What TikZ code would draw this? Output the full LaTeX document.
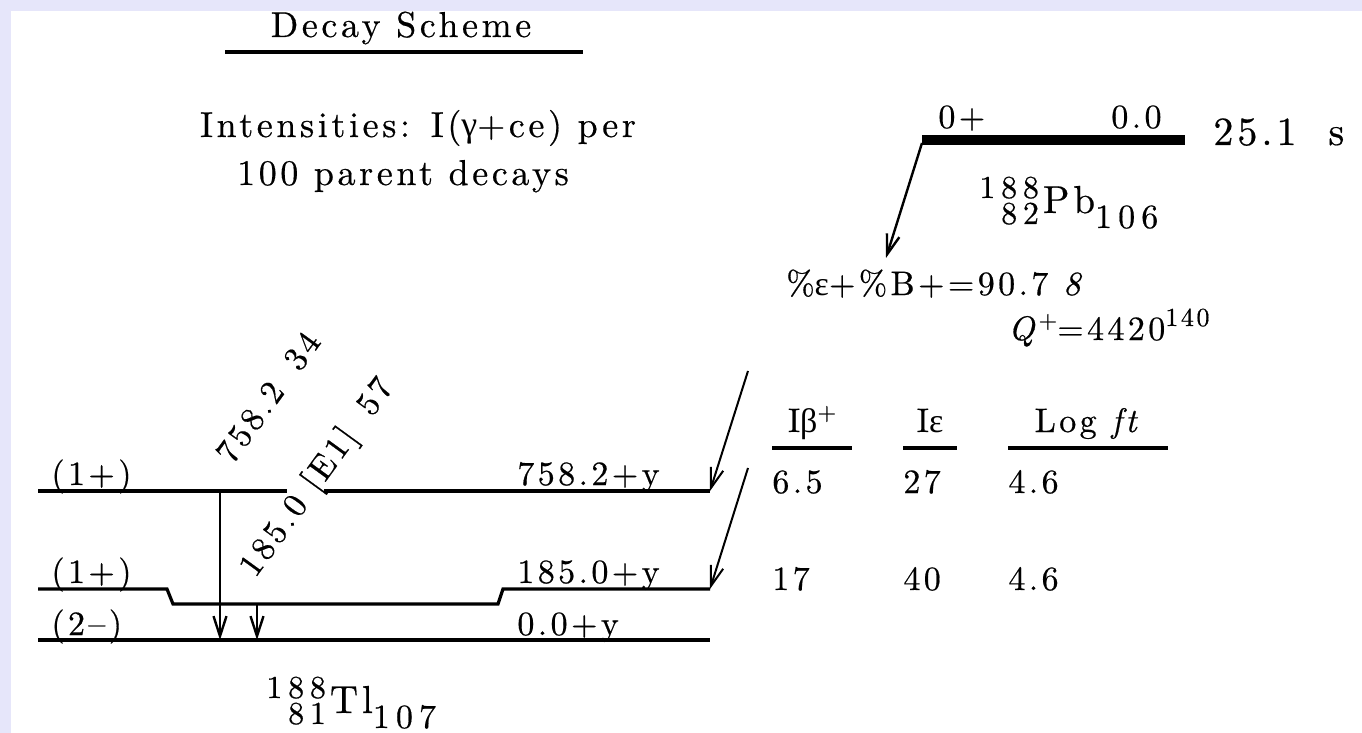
\documentclass[tikz,border=0pt]{standalone}
\usepackage{fontspec}
\setmainfont{lmroman10-regular.otf}[ItalicFont=lmroman10-italic.otf,BoldFont=lmroman10-bold.otf,LetterSpace=10,FakeBold=0.5]
\newfontfamily\grk{Liberation Serif}[LetterSpace=10]
\newfontfamily\nucfont{lmroman10-regular.otf}[LetterSpace=18,FakeBold=0.5]
\usetikzlibrary{arrows.meta,positioning}
\definecolor{bandlav}{RGB}{230,230,250}

\newcommand{\txt}{\fontsize{17}{20}\selectfont}
\newcommand{\bigtxt}{\fontsize{18}{20}\selectfont}
\newcommand{\nucsmall}{\fontsize{16}{16}\nucfont}
% nuclide label: mass, charge, symbol, neutrons
\newcommand{\isotope}[4]{{%
  \setbox0\hbox{\nucsmall #1}%
  \makebox[\wd0][r]{\raisebox{7.5pt}{\makebox[0pt][r]{\nucsmall #1}}\raisebox{-5.5pt}{\makebox[0pt][r]{\nucsmall #2}}}%
  \hspace{2pt}\fontsize{19.5}{20}\selectfont #3%
  \raisebox{-7.5pt}{\fontsize{17}{17}\nucfont #4}}}

\tikzset{
  lvl/.style={line width=1.6pt},
  gam/.style={line width=1.2pt,-{Straight Barb[length=10pt,width=6.5pt]}},
  feed/.style={line width=1pt,-{Straight Barb[length=10pt,width=6.5pt]}},
  lab/.style={inner sep=0pt,font=\txt},
}

\begin{document}
\begin{tikzpicture}[x=0.5pt,y=-0.5pt]
  % page and frame
  \fill[bandlav] (0,0) rectangle (1362,733);
  \fill[white] (11,11) rectangle (1362,733);
  \useasboundingbox (0,0) rectangle (1362,733);

  % heading
  \node[lab,anchor=base,font=\bigtxt] (title) at (401,37) {Decay Scheme};
  \coordinate (ul1) at (225,52);
  \coordinate (ul2) at (583,52);
  \draw[line width=1.7pt] (ul1) -- (ul2);
  \node[lab,anchor=base,font=\bigtxt] (int1) at (418,137) {Intensities: I({\grk γ}+ce) per};
  \node[lab,anchor=base,font=\bigtxt] (int2) at (403,185) {100 parent decays};

  % parent level
  \coordinate (p1) at (922,140);
  \coordinate (p2) at (1185,140);
  \draw[line width=5pt] (p1) -- (p2);
  \node[lab,anchor=base west] (pspin) at (938,128) {0+};
  \node[lab,anchor=base east] (pen) at (1162,128) {0.0};
  \node[lab,anchor=base west,font=\fontsize{20}{20}\selectfont] (phalf) at (1213,145) {25.1\hspace{16pt}s};
  \node[lab,anchor=base west] (pb) at (979,213) {\isotope{188}{82}{Pb}{106}};
  \coordinate (pa) at (922,143);
  \coordinate (pe) at (886,258);
  \draw[gam] (pa) -- (pe);
  \node[lab,anchor=base west] (branch) at (786,295) {\%{\grk ε}+\%B+=90.7 \textit{8}};
  \node[lab,anchor=base west] (qval) at (1008,340) {\textit{Q}\raisebox{6pt}{\fontsize{12}{12}\selectfont +}=4420\raisebox{7pt}{\fontsize{13}{13}\selectfont 140}};

  % daughter levels
  \coordinate (a1) at (38,491);
  \coordinate (a2) at (287,491);
  \coordinate (a3) at (324,491);
  \coordinate (a4) at (710,491);
  \draw[lvl] (a1) -- (a2);
  \draw[lvl] (a3) -- (a4);
  \coordinate (b1) at (38,589);
  \coordinate (b2) at (167,589);
  \coordinate (b3) at (173,604);
  \coordinate (b4) at (498,604);
  \coordinate (b5) at (503,589);
  \coordinate (b6) at (710,589);
  \draw[lvl] (b1) -- (b2) -- (b3) -- (b4) -- (b5) -- (b6);
  \coordinate (c1) at (38,640);
  \coordinate (c2) at (710,640);
  \draw[lvl] (c1) -- (c2);

  \node[lab,anchor=base west] (s1) at (51,485) {(1+)};
  \node[lab,anchor=base west] (e1) at (517,485) {758.2+y};
  \node[lab,anchor=base west] (s2) at (51,583) {(1+)};
  \node[lab,anchor=base west] (e2) at (517,583) {185.0+y};
  \node[lab,anchor=base west] (s3) at (51,635) {(2--)};
  \node[lab,anchor=base west] (e3) at (517,635) {0.0+y};

  % gamma transitions
  \coordinate (g1s) at (220,491);
  \coordinate (g1e) at (220,640);
  \coordinate (g2s) at (257,604);
  \coordinate (g2e) at (257,640);
  \draw[gam] (g1s) -- (g1e);
  \draw[gam] (g2s) -- (g2e);
  \node[lab,anchor=base west,rotate=54] (gl1) at (232,466) {758.2\hspace{12pt}34};
  \node[lab,anchor=base west,rotate=54] (gl2) at (255,579) {185.0 [E1]\hspace{12pt}57};

  % feeding
  \coordinate (f1) at (748,371);
  \coordinate (f2) at (748,468);
  \draw[feed] (f1) -- (a4);
  \draw[feed] (f2) -- (b6);

  % intensity table
  \node[lab,anchor=base] (hb) at (812,432) {I{\grk β}\raisebox{6pt}{\fontsize{12}{12}\selectfont +}};
  \node[lab,anchor=base] (he) at (930,432) {I{\grk ε}};
  \node[lab,anchor=base] (hf) at (1088,432) {Log \textit{ft}};
  \foreach \xa/\xb in {772/852, 903/957, 1008/1168} {
    \coordinate (t1) at (\xa,448);
    \coordinate (t2) at (\xb,448);
    \draw[line width=1.6pt] (t1) -- (t2);
  }
  \node[lab,anchor=base west] (v11) at (772,493) {6.5};
  \node[lab,anchor=base west] (v12) at (903,493) {27};
  \node[lab,anchor=base west] (v13) at (1008,493) {4.6};
  \node[lab,anchor=base west] (v21) at (772,590) {17};
  \node[lab,anchor=base west] (v22) at (903,590) {40};
  \node[lab,anchor=base west] (v23) at (1008,590) {4.6};

  % daughter nuclide
  \node[lab,anchor=base west] (tl) at (266,713) {\isotope{188}{81}{Tl}{107}};
\end{tikzpicture}
\end{document}
